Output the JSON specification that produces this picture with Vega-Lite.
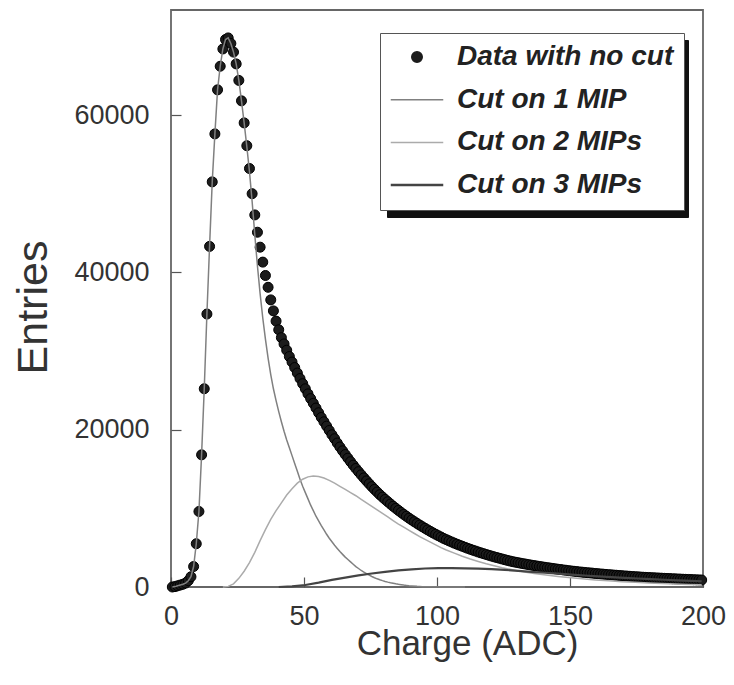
{
  "$schema": "https://vega.github.io/schema/vega-lite/v6.json",
  "width": 532,
  "height": 577,
  "autosize": {"type": "none"},
  "padding": {"left": 171, "top": 10, "right": 31, "bottom": 98},
  "background": "white",
  "datasets": {
    "nocut": [
      {"x":0.5,"y":0},{"x":1.5,"y":50},{"x":2.5,"y":150},{"x":3.5,"y":250},{"x":4.5,"y":350},{"x":5.5,"y":500},{"x":6.5,"y":800},{"x":7.5,"y":1300},{"x":8.5,"y":2600},{"x":9.5,"y":5500},
      {"x":10.5,"y":9600},{"x":11.5,"y":16800},{"x":12.5,"y":25200},{"x":13.5,"y":34700},{"x":14.5,"y":43300},{"x":15.5,"y":51500},{"x":16.5,"y":57600},{"x":17.5,"y":63200},{"x":18.5,"y":66200},{"x":19.5,"y":68400},
      {"x":20.5,"y":69600},{"x":21.5,"y":69800},{"x":22.5,"y":69100},{"x":23.5,"y":68000},{"x":24.5,"y":66500},{"x":25.5,"y":64400},{"x":26.5,"y":61800},{"x":27.5,"y":59000},{"x":28.5,"y":56100},{"x":29.5,"y":53200},
      {"x":30.5,"y":50000},{"x":31.5,"y":47300},{"x":32.5,"y":45100},{"x":33.5,"y":43200},{"x":34.5,"y":41300},{"x":35.5,"y":39600},{"x":36.5,"y":38100},{"x":37.5,"y":36500},{"x":38.5,"y":35100},{"x":39.5,"y":33800},
      {"x":40.5,"y":32700},{"x":41.5,"y":31700},{"x":42.5,"y":30900},{"x":43.5,"y":30100},{"x":44.5,"y":29300},{"x":45.5,"y":28600},{"x":46.5,"y":27900},{"x":47.5,"y":27200},{"x":48.5,"y":26500},{"x":49.5,"y":25850},
      {"x":50.5,"y":25200},{"x":51.5,"y":24550},{"x":52.5,"y":23950},{"x":53.5,"y":23350},{"x":54.5,"y":22750},{"x":55.5,"y":22150},{"x":56.5,"y":21550},{"x":57.5,"y":21000},{"x":58.5,"y":20450},{"x":59.5,"y":19900},
      {"x":60.5,"y":19350},{"x":61.5,"y":18850},{"x":62.5,"y":18300},{"x":63.5,"y":17800},{"x":64.5,"y":17310},{"x":65.5,"y":16840},{"x":66.5,"y":16380},{"x":67.5,"y":15930},{"x":68.5,"y":15490},{"x":69.5,"y":15070},
      {"x":70.5,"y":14660},{"x":71.5,"y":14260},{"x":72.5,"y":13870},{"x":73.5,"y":13490},{"x":74.5,"y":13120},{"x":75.5,"y":12760},{"x":76.5,"y":12410},{"x":77.5,"y":12070},{"x":78.5,"y":11740},{"x":79.5,"y":11430},
      {"x":80.5,"y":11130},{"x":81.5,"y":10840},{"x":82.5,"y":10550},{"x":83.5,"y":10270},{"x":84.5,"y":10000},{"x":85.5,"y":9740},{"x":86.5,"y":9480},{"x":87.5,"y":9230},{"x":88.5,"y":8990},{"x":89.5,"y":8750},
      {"x":90.5,"y":8520},{"x":91.5,"y":8300},{"x":92.5,"y":8080},{"x":93.5,"y":7870},{"x":94.5,"y":7660},{"x":95.5,"y":7460},{"x":96.5,"y":7260},{"x":97.5,"y":7070},{"x":98.5,"y":6880},{"x":99.5,"y":6700},
      {"x":100.5,"y":6520},{"x":101.5,"y":6350},{"x":102.5,"y":6180},{"x":103.5,"y":6020},{"x":104.5,"y":5870},{"x":105.5,"y":5720},{"x":106.5,"y":5580},{"x":107.5,"y":5440},{"x":108.5,"y":5310},{"x":109.5,"y":5180},
      {"x":110.5,"y":5050},{"x":111.5,"y":4920},{"x":112.5,"y":4800},{"x":113.5,"y":4680},{"x":114.5,"y":4570},{"x":115.5,"y":4450},{"x":116.5,"y":4340},{"x":117.5,"y":4240},{"x":118.5,"y":4130},{"x":119.5,"y":4030},
      {"x":120.5,"y":3930},{"x":121.5,"y":3830},{"x":122.5,"y":3740},{"x":123.5,"y":3650},{"x":124.5,"y":3560},{"x":125.5,"y":3470},{"x":126.5,"y":3380},{"x":127.5,"y":3300},{"x":128.5,"y":3220},{"x":129.5,"y":3150},
      {"x":130.5,"y":3090},{"x":131.5,"y":3020},{"x":132.5,"y":2960},{"x":133.5,"y":2900},{"x":134.5,"y":2840},{"x":135.5,"y":2780},{"x":136.5,"y":2720},{"x":137.5,"y":2670},{"x":138.5,"y":2610},{"x":139.5,"y":2560},
      {"x":140.5,"y":2510},{"x":141.5,"y":2460},{"x":142.5,"y":2410},{"x":143.5,"y":2360},{"x":144.5,"y":2310},{"x":145.5,"y":2260},{"x":146.5,"y":2220},{"x":147.5,"y":2170},{"x":148.5,"y":2130},{"x":149.5,"y":2080},
      {"x":150.5,"y":2040},{"x":151.5,"y":2000},{"x":152.5,"y":1960},{"x":153.5,"y":1920},{"x":154.5,"y":1890},{"x":155.5,"y":1850},{"x":156.5,"y":1820},{"x":157.5,"y":1790},{"x":158.5,"y":1760},{"x":159.5,"y":1720},
      {"x":160.5,"y":1690},{"x":161.5,"y":1660},{"x":162.5,"y":1630},{"x":163.5,"y":1600},{"x":164.5,"y":1570},{"x":165.5,"y":1545},{"x":166.5,"y":1515},{"x":167.5,"y":1490},{"x":168.5,"y":1460},{"x":169.5,"y":1435},
      {"x":170.5,"y":1410},{"x":171.5,"y":1385},{"x":172.5,"y":1360},{"x":173.5,"y":1335},{"x":174.5,"y":1310},{"x":175.5,"y":1290},{"x":176.5,"y":1265},{"x":177.5,"y":1245},{"x":178.5,"y":1225},{"x":179.5,"y":1210},
      {"x":180.5,"y":1190},{"x":181.5,"y":1170},{"x":182.5,"y":1155},{"x":183.5,"y":1135},{"x":184.5,"y":1120},{"x":185.5,"y":1100},{"x":186.5,"y":1085},{"x":187.5,"y":1070},{"x":188.5,"y":1050},{"x":189.5,"y":1035},
      {"x":190.5,"y":1020},{"x":191.5,"y":1005},{"x":192.5,"y":990},{"x":193.5,"y":975},{"x":194.5,"y":960},{"x":195.5,"y":945},{"x":196.5,"y":930},{"x":197.5,"y":915},{"x":198.5,"y":900},{"x":199.5,"y":890}
    ],
    "cuts": [
      {"x":0.5,"y":0,"series":"Cut on 1 MIP"},{"x":1.5,"y":50,"series":"Cut on 1 MIP"},{"x":2.5,"y":150,"series":"Cut on 1 MIP"},{"x":3.5,"y":250,"series":"Cut on 1 MIP"},{"x":4.5,"y":350,"series":"Cut on 1 MIP"},
      {"x":5.5,"y":500,"series":"Cut on 1 MIP"},{"x":6.5,"y":800,"series":"Cut on 1 MIP"},{"x":7.5,"y":1300,"series":"Cut on 1 MIP"},{"x":8.5,"y":2600,"series":"Cut on 1 MIP"},{"x":9.5,"y":5500,"series":"Cut on 1 MIP"},
      {"x":10.5,"y":9600,"series":"Cut on 1 MIP"},{"x":11.5,"y":16800,"series":"Cut on 1 MIP"},{"x":12.5,"y":25200,"series":"Cut on 1 MIP"},{"x":13.5,"y":34700,"series":"Cut on 1 MIP"},{"x":14.5,"y":43300,"series":"Cut on 1 MIP"},
      {"x":15.5,"y":51500,"series":"Cut on 1 MIP"},{"x":16.5,"y":57600,"series":"Cut on 1 MIP"},{"x":17.5,"y":63200,"series":"Cut on 1 MIP"},{"x":18.5,"y":66200,"series":"Cut on 1 MIP"},{"x":19.5,"y":68400,"series":"Cut on 1 MIP"},
      {"x":20.5,"y":69600,"series":"Cut on 1 MIP"},{"x":21.5,"y":69800,"series":"Cut on 1 MIP"},{"x":22.5,"y":69100,"series":"Cut on 1 MIP"},{"x":23.5,"y":68000,"series":"Cut on 1 MIP"},{"x":24.5,"y":66500,"series":"Cut on 1 MIP"},
      {"x":25.5,"y":64400,"series":"Cut on 1 MIP"},{"x":26.5,"y":61800,"series":"Cut on 1 MIP"},{"x":27.5,"y":59000,"series":"Cut on 1 MIP"},{"x":28.5,"y":56000,"series":"Cut on 1 MIP"},{"x":29.5,"y":52800,"series":"Cut on 1 MIP"},
      {"x":30.5,"y":49000,"series":"Cut on 1 MIP"},{"x":31.5,"y":44800,"series":"Cut on 1 MIP"},{"x":32.5,"y":40800,"series":"Cut on 1 MIP"},{"x":33.5,"y":37300,"series":"Cut on 1 MIP"},{"x":34.5,"y":34200,"series":"Cut on 1 MIP"},
      {"x":35.5,"y":31500,"series":"Cut on 1 MIP"},{"x":36.5,"y":29100,"series":"Cut on 1 MIP"},{"x":37.5,"y":27000,"series":"Cut on 1 MIP"},{"x":38.5,"y":25200,"series":"Cut on 1 MIP"},{"x":39.5,"y":23700,"series":"Cut on 1 MIP"},
      {"x":40.5,"y":22300,"series":"Cut on 1 MIP"},{"x":41.5,"y":21000,"series":"Cut on 1 MIP"},{"x":42.5,"y":19800,"series":"Cut on 1 MIP"},{"x":43.5,"y":18700,"series":"Cut on 1 MIP"},{"x":44.5,"y":17700,"series":"Cut on 1 MIP"},
      {"x":45.5,"y":16700,"series":"Cut on 1 MIP"},{"x":46.5,"y":15700,"series":"Cut on 1 MIP"},{"x":47.5,"y":14700,"series":"Cut on 1 MIP"},{"x":48.5,"y":13700,"series":"Cut on 1 MIP"},{"x":49.5,"y":12800,"series":"Cut on 1 MIP"},
      {"x":50.5,"y":12000,"series":"Cut on 1 MIP"},{"x":51.5,"y":11200,"series":"Cut on 1 MIP"},{"x":52.5,"y":10400,"series":"Cut on 1 MIP"},{"x":53.5,"y":9700,"series":"Cut on 1 MIP"},{"x":54.5,"y":9000,"series":"Cut on 1 MIP"},
      {"x":55.5,"y":8400,"series":"Cut on 1 MIP"},{"x":56.5,"y":7800,"series":"Cut on 1 MIP"},{"x":57.5,"y":7250,"series":"Cut on 1 MIP"},{"x":58.5,"y":6700,"series":"Cut on 1 MIP"},{"x":59.5,"y":6200,"series":"Cut on 1 MIP"},
      {"x":60.5,"y":5750,"series":"Cut on 1 MIP"},{"x":61.5,"y":5300,"series":"Cut on 1 MIP"},{"x":62.5,"y":4900,"series":"Cut on 1 MIP"},{"x":63.5,"y":4500,"series":"Cut on 1 MIP"},{"x":64.5,"y":4150,"series":"Cut on 1 MIP"},
      {"x":65.5,"y":3800,"series":"Cut on 1 MIP"},{"x":66.5,"y":3500,"series":"Cut on 1 MIP"},{"x":67.5,"y":3200,"series":"Cut on 1 MIP"},{"x":68.5,"y":2900,"series":"Cut on 1 MIP"},{"x":69.5,"y":2600,"series":"Cut on 1 MIP"},
      {"x":70.5,"y":2350,"series":"Cut on 1 MIP"},{"x":71.5,"y":2100,"series":"Cut on 1 MIP"},{"x":72.5,"y":1900,"series":"Cut on 1 MIP"},{"x":73.5,"y":1700,"series":"Cut on 1 MIP"},{"x":74.5,"y":1500,"series":"Cut on 1 MIP"},
      {"x":75.5,"y":1330,"series":"Cut on 1 MIP"},{"x":76.5,"y":1180,"series":"Cut on 1 MIP"},{"x":77.5,"y":1040,"series":"Cut on 1 MIP"},{"x":78.5,"y":920,"series":"Cut on 1 MIP"},{"x":79.5,"y":810,"series":"Cut on 1 MIP"},
      {"x":80.5,"y":710,"series":"Cut on 1 MIP"},{"x":81.5,"y":620,"series":"Cut on 1 MIP"},{"x":82.5,"y":540,"series":"Cut on 1 MIP"},{"x":83.5,"y":470,"series":"Cut on 1 MIP"},{"x":84.5,"y":400,"series":"Cut on 1 MIP"},
      {"x":85.5,"y":340,"series":"Cut on 1 MIP"},{"x":86.5,"y":290,"series":"Cut on 1 MIP"},{"x":87.5,"y":240,"series":"Cut on 1 MIP"},{"x":88.5,"y":200,"series":"Cut on 1 MIP"},{"x":89.5,"y":160,"series":"Cut on 1 MIP"},
      {"x":90.5,"y":130,"series":"Cut on 1 MIP"},{"x":92.5,"y":80,"series":"Cut on 1 MIP"},{"x":94.5,"y":45,"series":"Cut on 1 MIP"},{"x":97.5,"y":20,"series":"Cut on 1 MIP"},{"x":102.5,"y":5,"series":"Cut on 1 MIP"},
      {"x":110.5,"y":0,"series":"Cut on 1 MIP"},
      {"x":19.5,"y":0,"series":"Cut on 2 MIPs"},{"x":21.5,"y":80,"series":"Cut on 2 MIPs"},{"x":23.5,"y":400,"series":"Cut on 2 MIPs"},{"x":25.5,"y":1100,"series":"Cut on 2 MIPs"},{"x":27.5,"y":2000,"series":"Cut on 2 MIPs"},
      {"x":29.5,"y":3100,"series":"Cut on 2 MIPs"},{"x":31.5,"y":4400,"series":"Cut on 2 MIPs"},{"x":33.5,"y":5900,"series":"Cut on 2 MIPs"},{"x":35.5,"y":7300,"series":"Cut on 2 MIPs"},{"x":37.5,"y":8600,"series":"Cut on 2 MIPs"},
      {"x":39.5,"y":9700,"series":"Cut on 2 MIPs"},{"x":41.5,"y":10700,"series":"Cut on 2 MIPs"},{"x":43.5,"y":11700,"series":"Cut on 2 MIPs"},{"x":45.5,"y":12500,"series":"Cut on 2 MIPs"},{"x":47.5,"y":13200,"series":"Cut on 2 MIPs"},
      {"x":49.5,"y":13700,"series":"Cut on 2 MIPs"},{"x":51.5,"y":14000,"series":"Cut on 2 MIPs"},{"x":53.5,"y":14100,"series":"Cut on 2 MIPs"},{"x":55.5,"y":14050,"series":"Cut on 2 MIPs"},{"x":57.5,"y":13850,"series":"Cut on 2 MIPs"},
      {"x":59.5,"y":13550,"series":"Cut on 2 MIPs"},{"x":61.5,"y":13200,"series":"Cut on 2 MIPs"},{"x":63.5,"y":12800,"series":"Cut on 2 MIPs"},{"x":65.5,"y":12400,"series":"Cut on 2 MIPs"},{"x":67.5,"y":12000,"series":"Cut on 2 MIPs"},
      {"x":69.5,"y":11600,"series":"Cut on 2 MIPs"},{"x":71.5,"y":11150,"series":"Cut on 2 MIPs"},{"x":73.5,"y":10700,"series":"Cut on 2 MIPs"},{"x":75.5,"y":10250,"series":"Cut on 2 MIPs"},{"x":77.5,"y":9800,"series":"Cut on 2 MIPs"},
      {"x":79.5,"y":9350,"series":"Cut on 2 MIPs"},{"x":81.5,"y":8900,"series":"Cut on 2 MIPs"},{"x":83.5,"y":8450,"series":"Cut on 2 MIPs"},{"x":85.5,"y":8000,"series":"Cut on 2 MIPs"},{"x":87.5,"y":7600,"series":"Cut on 2 MIPs"},
      {"x":89.5,"y":7200,"series":"Cut on 2 MIPs"},{"x":91.5,"y":6800,"series":"Cut on 2 MIPs"},{"x":93.5,"y":6400,"series":"Cut on 2 MIPs"},{"x":95.5,"y":6050,"series":"Cut on 2 MIPs"},{"x":97.5,"y":5700,"series":"Cut on 2 MIPs"},
      {"x":99.5,"y":5350,"series":"Cut on 2 MIPs"},{"x":101.5,"y":5000,"series":"Cut on 2 MIPs"},{"x":103.5,"y":4700,"series":"Cut on 2 MIPs"},{"x":106.5,"y":4300,"series":"Cut on 2 MIPs"},{"x":109.5,"y":3900,"series":"Cut on 2 MIPs"},
      {"x":112.5,"y":3550,"series":"Cut on 2 MIPs"},{"x":115.5,"y":3250,"series":"Cut on 2 MIPs"},{"x":118.5,"y":2950,"series":"Cut on 2 MIPs"},{"x":121.5,"y":2700,"series":"Cut on 2 MIPs"},{"x":124.5,"y":2450,"series":"Cut on 2 MIPs"},
      {"x":127.5,"y":2250,"series":"Cut on 2 MIPs"},{"x":130.5,"y":2050,"series":"Cut on 2 MIPs"},{"x":133.5,"y":1880,"series":"Cut on 2 MIPs"},{"x":136.5,"y":1720,"series":"Cut on 2 MIPs"},{"x":139.5,"y":1580,"series":"Cut on 2 MIPs"},
      {"x":142.5,"y":1450,"series":"Cut on 2 MIPs"},{"x":145.5,"y":1340,"series":"Cut on 2 MIPs"},{"x":148.5,"y":1230,"series":"Cut on 2 MIPs"},{"x":151.5,"y":1130,"series":"Cut on 2 MIPs"},{"x":154.5,"y":1040,"series":"Cut on 2 MIPs"},
      {"x":159.5,"y":900,"series":"Cut on 2 MIPs"},{"x":164.5,"y":780,"series":"Cut on 2 MIPs"},{"x":169.5,"y":680,"series":"Cut on 2 MIPs"},{"x":174.5,"y":590,"series":"Cut on 2 MIPs"},{"x":179.5,"y":510,"series":"Cut on 2 MIPs"},
      {"x":184.5,"y":440,"series":"Cut on 2 MIPs"},{"x":189.5,"y":380,"series":"Cut on 2 MIPs"},{"x":194.5,"y":330,"series":"Cut on 2 MIPs"},{"x":199.5,"y":290,"series":"Cut on 2 MIPs"},
      {"x":40.5,"y":0,"series":"Cut on 3 MIPs"},{"x":45.5,"y":80,"series":"Cut on 3 MIPs"},{"x":50.5,"y":250,"series":"Cut on 3 MIPs"},{"x":55.5,"y":550,"series":"Cut on 3 MIPs"},{"x":60.5,"y":900,"series":"Cut on 3 MIPs"},
      {"x":65.5,"y":1200,"series":"Cut on 3 MIPs"},{"x":70.5,"y":1480,"series":"Cut on 3 MIPs"},{"x":75.5,"y":1720,"series":"Cut on 3 MIPs"},{"x":80.5,"y":1930,"series":"Cut on 3 MIPs"},{"x":85.5,"y":2110,"series":"Cut on 3 MIPs"},
      {"x":90.5,"y":2250,"series":"Cut on 3 MIPs"},{"x":95.5,"y":2350,"series":"Cut on 3 MIPs"},{"x":100.5,"y":2400,"series":"Cut on 3 MIPs"},{"x":105.5,"y":2410,"series":"Cut on 3 MIPs"},{"x":110.5,"y":2380,"series":"Cut on 3 MIPs"},
      {"x":115.5,"y":2330,"series":"Cut on 3 MIPs"},{"x":120.5,"y":2260,"series":"Cut on 3 MIPs"},{"x":125.5,"y":2180,"series":"Cut on 3 MIPs"},{"x":130.5,"y":2050,"series":"Cut on 3 MIPs"},{"x":135.5,"y":1930,"series":"Cut on 3 MIPs"},
      {"x":140.5,"y":1810,"series":"Cut on 3 MIPs"},{"x":145.5,"y":1690,"series":"Cut on 3 MIPs"},{"x":150.5,"y":1570,"series":"Cut on 3 MIPs"},{"x":155.5,"y":1460,"series":"Cut on 3 MIPs"},{"x":160.5,"y":1360,"series":"Cut on 3 MIPs"},
      {"x":165.5,"y":1260,"series":"Cut on 3 MIPs"},{"x":170.5,"y":1170,"series":"Cut on 3 MIPs"},{"x":175.5,"y":1080,"series":"Cut on 3 MIPs"},{"x":180.5,"y":1000,"series":"Cut on 3 MIPs"},{"x":185.5,"y":920,"series":"Cut on 3 MIPs"},
      {"x":190.5,"y":850,"series":"Cut on 3 MIPs"},{"x":195.5,"y":780,"series":"Cut on 3 MIPs"},{"x":199.5,"y":730,"series":"Cut on 3 MIPs"}
    ]
  },
  "encoding": {
    "x": {
      "field": "x", "type": "quantitative",
      "scale": {"domain": [0, 200], "nice": false, "zero": false},
      "axis": {
        "values": [0, 50, 100, 150, 200], "title": "Charge (ADC)",
        "tickSize": -10, "labelPadding": 26, "labelFlush": false, "labelOverlap": false,
        "titleFontSize": 35, "titleX": 296, "titleY": 67, "titleAlign": "center", "titleBaseline": "alphabetic"
      }
    },
    "y": {
      "field": "y", "type": "quantitative",
      "scale": {"domain": [0, 73350], "nice": false},
      "axis": {
        "values": [0, 20000, 40000, 60000], "format": "d", "title": "Entries",
        "tickSize": -10, "labelPadding": 32, "labelFlush": false, "labelOverlap": false,
        "titleFontSize": 43, "titleX": -138, "titleY": 297, "titleAngle": -90, "titleAlign": "center", "titleBaseline": "middle"
      }
    }
  },
  "layer": [
    {
      "data": {"name": "nocut"},
      "mark": {"type": "point", "filled": true, "size": 100, "color": "#1c1c1c", "stroke": "#000000", "strokeWidth": 1},
      "encoding": {
        "opacity": {
          "datum": "k1", "type": "nominal",
          "scale": {"type": "ordinal", "domain": ["k1", "k2", "k3", "k4"], "range": [1, 1, 1, 1]},
          "legend": {
            "orient": "none", "legendX": 216, "legendY": 30, "title": null,
            "fillColor": "#111111", "strokeColor": "#111111", "padding": 10,
            "labelFont": "Liberation Sans", "labelFontSize": 28,
            "labelColor": "#111111", "labelLimit": 400, "labelOffset": 240, "symbolOffset": 13, "rowPadding": 14.7,
            "symbolType": "circle", "symbolSize": 100, "symbolFillColor": "#111111", "symbolStrokeColor": "#111111",
            "labelExpr": "''",
            "zindex": 1
          }
        }
      }
    },
    {
      "data": {"name": "cuts"},
      "mark": {"type": "line", "interpolate": "linear"},
      "encoding": {
        "stroke": {
          "field": "series", "type": "nominal",
          "scale": {"domain": ["Data with no cut", "Cut on 1 MIP", "Cut on 2 MIPs", "Cut on 3 MIPs"], "range": ["#1c1c1c", "#808080", "#ababab", "#444444"]},
          "legend": {
            "orient": "none", "legendX": 209, "legendY": 23, "title": null,
            "fillColor": "#ffffff", "strokeColor": "#555555", "padding": 10,
            "labelFont": "Liberation Sans", "labelFontSize": 28, "labelFontStyle": "italic", "labelFontWeight": "bold",
            "labelColor": "#222222", "labelLimit": 400, "labelOffset": 26, "symbolOffset": 13, "rowPadding": 14.7,
            "symbolType": "stroke", "symbolSize": 100,
            "zindex": 2,
            "encode": {
              "symbols": {
                "update": {
                  "shape": {"signal": "datum.value === 'Data with no cut' ? 'circle' : 'M-2.1,0H2.1'"},
                  "size": {"signal": "datum.value === 'Data with no cut' ? 110 : 625"},
                  "fill": {"signal": "datum.value === 'Data with no cut' ? '#1c1c1c' : 'transparent'"},
                  "strokeWidth": {"signal": "datum.value === 'Cut on 3 MIPs' ? 2.5 : 1.5"}
                }
              }
            }
          }
        },
        "strokeWidth": {
          "field": "series", "type": "nominal",
          "scale": {"type": "ordinal", "domain": ["Cut on 1 MIP", "Cut on 2 MIPs", "Cut on 3 MIPs"], "range": [1.5, 1.5, 2.2]},
          "legend": null
        }
      }
    }
  ],
  "config": {
    "view": {"stroke": "#666666", "strokeWidth": 1.8},
    "font": "Liberation Sans",
    "axis": {
      "domain": false, "grid": false, "tickColor": "#555555", "tickWidth": 1.2,
      "labelFont": "Liberation Sans", "labelFontSize": 27, "labelColor": "#333333",
      "titleFont": "Liberation Sans", "titleColor": "#333333", "titleFontWeight": "normal"
    }
  }
}
